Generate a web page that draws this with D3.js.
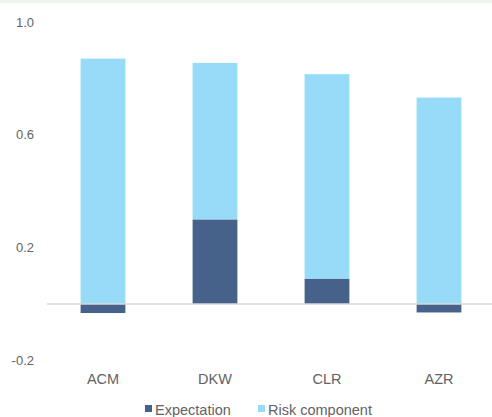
<!DOCTYPE html>
<html lang="en">
<head>
  <meta charset="UTF-8">
  <title>Expectation vs risk component</title>
  <script src="https://d3js.org/d3.v7.min.js"></script>
  <style>
    body { margin: 0; background: #fff; }
    text { font-family: "Liberation Sans", Arial, sans-serif; fill: #636363; }
  </style>
</head>
<body>
  <div id="chart"></div>
  <script>
    // dados
    const categories = ["ACM", "DKW", "CLR", "AZR"];
    const expectation = [-0.032, 0.30, 0.09, -0.03];
    const riskComponent = [0.87, 0.555, 0.725, 0.732];
    const tickValues = [-0.2, 0.2, 0.6, 1.0];
    const seriesNames = ["Expectation", "Risk component"];
    const colors = ["#46618a", "#97dbf9"];

    const width = 492, height = 417;

    const svg = d3.select("#chart").append("svg")
      .attr("width", width)
      .attr("height", height);

    // faixa verde no topo
    svg.append("rect")
      .attr("x", 0).attr("y", 0)
      .attr("width", width).attr("height", 3)
      .attr("fill", "#eef5eb");

    const x = d3.scaleBand()
      .domain(categories)
      .range([47, 495])
      .paddingInner(0.6)
      .paddingOuter(0.3);

    const y = d3.scaleLinear()
      .domain([-0.2, 1.0])
      .range([360.4, 22]);

    // rótulos do eixo y (hífen simples, como no original)
    svg.selectAll(".ytick")
      .data(tickValues)
      .enter()
      .append("text")
      .attr("x", 34)
      .attr("y", d => y(d))
      .attr("dy", "0.35em")
      .attr("text-anchor", "end")
      .attr("font-size", 13)
      .text(d => d.toFixed(1));

    // barras: expectativa a partir de zero, risco empilhado acima
    const rows = categories.map((c, i) => {
      const e = expectation[i];
      const r = riskComponent[i];
      const base = Math.max(e, 0);
      return { cat: c, e: e, r: r, base: base };
    });

    svg.selectAll(".exp")
      .data(rows)
      .enter()
      .append("rect")
      .attr("x", d => x(d.cat))
      .attr("width", x.bandwidth())
      .attr("y", d => y(Math.max(d.e, 0)))
      .attr("height", d => Math.abs(y(d.e) - y(0)))
      .attr("fill", colors[0]);

    svg.selectAll(".risk")
      .data(rows)
      .enter()
      .append("rect")
      .attr("x", d => x(d.cat))
      .attr("width", x.bandwidth())
      .attr("y", d => y(d.base + d.r))
      .attr("height", d => y(d.base) - y(d.base + d.r))
      .attr("fill", colors[1]);

    // linha do zero
    svg.append("line")
      .attr("x1", 47).attr("x2", width)
      .attr("y1", y(0)).attr("y2", y(0))
      .attr("stroke", "#d9d9d9")
      .attr("stroke-width", 1.5);

    // rótulos das categorias
    svg.selectAll(".xlab")
      .data(categories)
      .enter()
      .append("text")
      .attr("x", d => x(d) + x.bandwidth() / 2)
      .attr("y", 379)
      .attr("dy", "0.35em")
      .attr("text-anchor", "middle")
      .attr("font-size", 14.5)
      .text(d => d);

    // legenda
    const legendX = [145, 258];
    const legend = svg.selectAll(".leg")
      .data(seriesNames)
      .enter()
      .append("g")
      .attr("transform", (d, i) => `translate(${legendX[i]},0)`);

    legend.append("rect")
      .attr("x", 0).attr("y", 405)
      .attr("width", 7).attr("height", 7)
      .attr("fill", (d, i) => colors[i]);

    legend.append("text")
      .attr("x", 10)
      .attr("y", 415)
      .attr("font-size", 14.5)
      .text(d => d);
  </script>
</body>
</html>
